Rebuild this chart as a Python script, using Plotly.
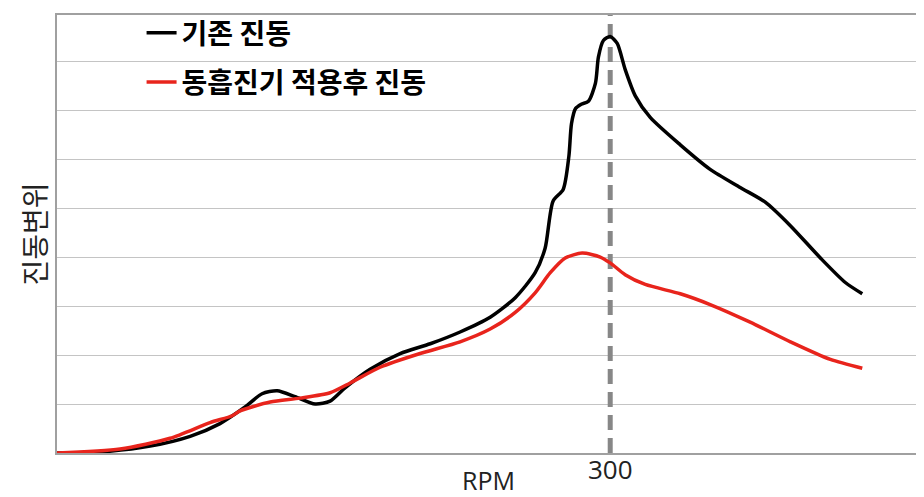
import plotly.graph_objects as go

# Data (RPM-like x units, vibration displacement in gridline units)
rpm_base = [0, 23.3, 50.5, 72.2, 88.4, 102.0, 111.2, 119.4, 129.1, 140.0, 148.1, 156.2,
            169.8, 186.1, 202.4, 218.6, 234.9, 248.5, 259.3, 264.7, 269.0, 274.5, 277.6,
            279.0, 281.2, 284.3, 288.2, 292.0, 293.6, 296.3, 300.0, 303.8, 308.1, 313.6,
            321.7, 338.0, 354.2, 370.5, 384.1, 397.7, 414.0, 427.5, 436.7]
vib_base = [0.00, 0.02, 0.14, 0.34, 0.60, 0.94, 1.21, 1.27, 1.15, 1.00, 1.06, 1.33,
            1.71, 2.03, 2.23, 2.47, 2.77, 3.17, 3.68, 4.18, 5.14, 5.38, 6.06,
            6.72, 7.03, 7.12, 7.18, 7.55, 8.08, 8.42, 8.50, 8.36, 7.83, 7.29,
            6.85, 6.29, 5.79, 5.42, 5.12, 4.64, 3.98, 3.48, 3.25]

rpm_abs = [0, 34.2, 61.3, 83.0, 95.0, 99.3, 115.6, 131.8, 148.1, 159.0, 175.2, 196.9,
           218.6, 234.9, 248.5, 259.3, 267.5, 275.6, 284.8, 294.6, 300.0, 308.1, 319.0,
           338.0, 354.2, 375.9, 397.7, 419.4, 436.7]
vib_abs = [0.00, 0.08, 0.30, 0.62, 0.76, 0.86, 1.04, 1.12, 1.23, 1.43, 1.75, 2.03,
           2.27, 2.53, 2.87, 3.27, 3.68, 3.98, 4.08, 4.00, 3.88, 3.64, 3.44,
           3.25, 3.03, 2.67, 2.27, 1.91, 1.73]

marker_rpm = [300, 300]
marker_span = [0, 9]

series_names = ["기존 진동", "동흡진기 적용후 진동"]
x_tick_vals = [300]
x_tick_text = ["300"]
x_title = "RPM"
y_title = "진동변위"

KR = "Noto Sans CJK KR"

fig = go.Figure()
fig.add_trace(go.Scatter(
    x=marker_rpm, y=marker_span, mode="lines", showlegend=False, hoverinfo="skip",
    line=dict(color="#878787", width=5, dash="15px,8px")))
fig.add_trace(go.Scatter(
    x=rpm_base, y=vib_base, mode="lines", name=series_names[0], legendgroup="a",
    line=dict(color="#000000", width=3.5, shape="spline", smoothing=0.7)))
fig.add_trace(go.Scatter(
    x=rpm_abs, y=vib_abs, mode="lines", name=series_names[1], legendgroup="b",
    line=dict(color="#e8241c", width=3.5, shape="spline", smoothing=0.7)))

fig.update_layout(
    width=916, height=489,
    margin=dict(l=49, r=4, t=0, b=44),
    paper_bgcolor="white", plot_bgcolor="white",
    font=dict(family=KR, color="black"),
    legend=dict(x=0.098, y=1.016, xanchor="left", yanchor="top",
                bgcolor="rgba(0,0,0,0)", traceorder="grouped", tracegroupgap=10,
                font=dict(family=KR, size=28, weight="bold", color="black")),
    xaxis=dict(range=[0, 468], showgrid=False, zeroline=False,
               tickvals=x_tick_vals, ticktext=x_tick_text, ticks="",
               ticklabelstandoff=-7,
               tickfont=dict(family="Open Sans", size=26, color="#222"),
               showline=True, linecolor="#a0a0a0", linewidth=2, mirror=True,
               automargin=False,
               title=dict(text=x_title, standoff=11,
                          font=dict(family="Open Sans", size=25, color="#222"))),
    yaxis=dict(range=[0, 8.94], dtick=1, showgrid=True, gridcolor="#c4c4c4", gridwidth=1,
               zeroline=False, showticklabels=False, ticks="",
               showline=True, linecolor="#a0a0a0", linewidth=2, mirror=True,
               automargin=False,
               title=dict(text=y_title, standoff=0,
                          font=dict(family=KR, size=28, color="#222"))),
)

fig.write_html("out.html")
